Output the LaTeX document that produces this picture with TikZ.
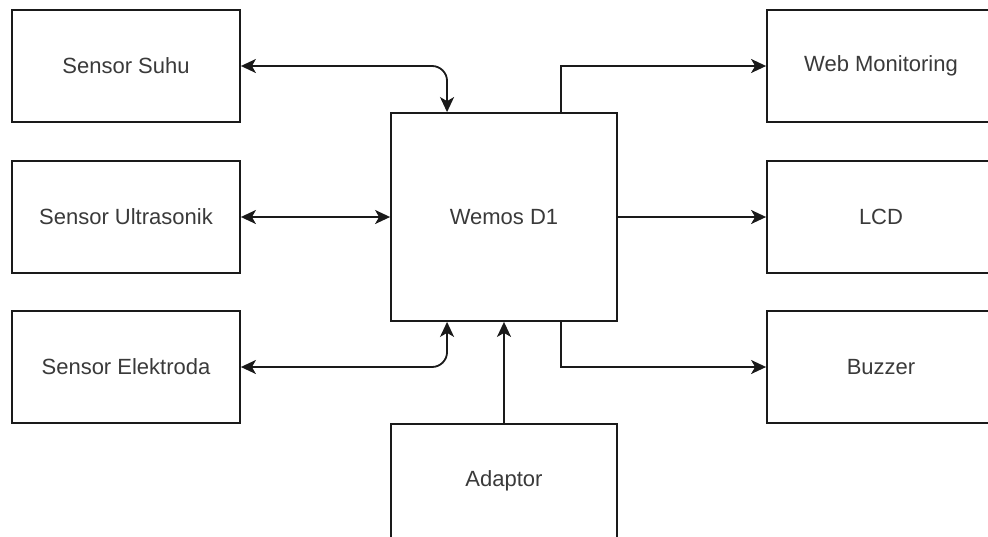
\documentclass[tikz,border=0pt]{standalone}
\usepackage{fontspec}
\setmainfont{Liberation Sans}
\usetikzlibrary{arrows.meta,calc}
\definecolor{linec}{HTML}{1A1A1A}
\definecolor{textc}{HTML}{3A3A3A}
\tikzset{
  blk/.style={draw=linec, line width=1.8pt, fill=white, minimum width=228pt, minimum height=112pt, inner sep=0pt, text=textc, font=\fontsize{22}{26}\selectfont},
  conn/.style={draw=linec, line width=1.8pt},
  tip/.style={-{Stealth[length=15pt,width=14pt,inset=4pt]}},
  bitip/.style={{Stealth[length=15pt,width=14pt,inset=4pt]}-{Stealth[length=15pt,width=14pt,inset=4pt]}}
}
\begin{document}
\begin{tikzpicture}[x=1pt,y=-1pt]
\useasboundingbox[fill=white] (0,0) rectangle (988,536);
\node[blk] (suhu) at (126,66) {Sensor Suhu};
\node[blk] (ultra) at (126,217) {Sensor Ultrasonik};
\node[blk] (elek) at (126,367) {Sensor Elektroda};
\node[blk, minimum width=226pt, minimum height=208pt] (wemos) at (504,217) {Wemos D1};
\node[blk] (web) at (881,66) {Web Monitoring};
\node[blk] (lcd) at (881,217) {LCD};
\node[blk] (buzz) at (881,367) {Buzzer};
\node[blk, minimum width=226pt, minimum height=114pt] (adapt) at (504,481) {Adaptor};
\coordinate (wtl) at ($(wemos.north west)!0.25!(wemos.north east)$);
\coordinate (wtr) at ($(wemos.north west)!0.75!(wemos.north east)$);
\coordinate (wbl) at ($(wemos.south west)!0.25!(wemos.south east)$);
\coordinate (wbr) at ($(wemos.south west)!0.75!(wemos.south east)$);
\draw[conn, bitip, rounded corners=15pt] (suhu.east) -| (wtl);
\draw[conn, bitip] (ultra.east) -- (wemos.west);
\draw[conn, bitip, rounded corners=15pt] (elek.east) -| (wbl);
\draw[conn, tip] (adapt.north) -- (wemos.south);
\draw[conn, tip] (wtr) |- (web.west);
\draw[conn, tip] (wemos.east) -- (lcd.west);
\draw[conn, tip] (wbr) |- (buzz.west);
\end{tikzpicture}
\end{document}
